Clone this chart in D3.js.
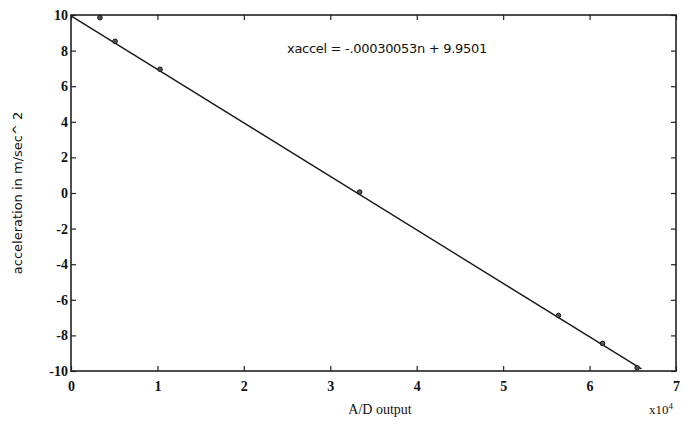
<!DOCTYPE html>
<html>
<head>
<meta charset="utf-8">
<script src="https://cdn.jsdelivr.net/npm/d3@7"></script>
<style>
  body { margin: 0; background: #fff; }
  svg text { font-family: "Liberation Serif", "DejaVu Serif", serif; fill: #111; }
</style>
</head>
<body>
<script>
//-----------------Data----------------

const adOutput = [3350, 5100, 10300, 33400, 56400, 61500, 65500];
const accel = [9.85, 8.52, 6.95, 0.05, -6.88, -8.45, -9.82];
const xTicks = [0, 1, 2, 3, 4, 5, 6, 7];
const yTicks = [-10, -8, -6, -4, -2, 0, 2, 4, 6, 8, 10];
const fitSlope = -0.00030053;
const fitIntercept = 9.9501;
const fitRange = [0, 66000];
const fitLabel = "xaccel = -.00030053n + 9.9501";

//-----------------Main svg----------------

const width = 685;
const height = 430;
const margin = { top: 15, right: 9, bottom: 59, left: 71 };

const svg = d3.select("body").append("svg").attr("width", width).attr("height", height);

const x = d3.scaleLinear().domain([0, 70000]).range([margin.left, width - margin.right]);
const y = d3.scaleLinear().domain([-10, 10]).range([height - margin.bottom, margin.top]);

//----------------Axes (ticks inside the box)-----------------

const tickLen = 5;

svg
  .append("g")
  .attr("transform", `translate(0, ${height - margin.bottom})`)
  .call(d3.axisBottom(x).tickValues(xTicks.map((t) => t * 1e4)).tickFormat((d) => String(d / 1e4)).tickSizeInner(-tickLen).tickSizeOuter(0).tickPadding(10))
  .call((g) => g.select(".domain").remove());

svg
  .append("g")
  .attr("transform", `translate(${margin.left}, 0)`)
  .call(d3.axisLeft(y).tickValues(yTicks).tickFormat((d) => String(d)).tickSizeInner(-tickLen).tickSizeOuter(0).tickPadding(3))
  .call((g) => g.select(".domain").remove());

svg
  .append("g")
  .attr("transform", `translate(0, ${margin.top})`)
  .call(d3.axisTop(x).tickValues(xTicks.map((t) => t * 1e4)).tickFormat("").tickSizeInner(-tickLen).tickSizeOuter(0))
  .call((g) => g.select(".domain").remove());

svg
  .append("g")
  .attr("transform", `translate(${width - margin.right}, 0)`)
  .call(d3.axisRight(y).tickValues(yTicks).tickFormat("").tickSizeInner(-tickLen).tickSizeOuter(0))
  .call((g) => g.select(".domain").remove());

svg.selectAll(".tick line").attr("stroke", "#222").attr("stroke-width", 1.2);
svg.selectAll(".tick text").style("font-size", "14px").style("font-weight", "bold");

// frame
svg
  .append("rect")
  .attr("x", margin.left)
  .attr("y", margin.top)
  .attr("width", width - margin.left - margin.right)
  .attr("height", height - margin.top - margin.bottom)
  .attr("fill", "none")
  .attr("stroke", "#222")
  .attr("stroke-width", 1.6);

//----------------Fit line and points-----------------

const line = d3
  .line()
  .x((d) => x(d))
  .y((d) => y(fitSlope * d + fitIntercept));

svg.append("path").datum(fitRange).attr("d", line).attr("fill", "none").attr("stroke", "#1a1a1a").attr("stroke-width", 1.4);

svg
  .selectAll("circle.pt")
  .data(adOutput)
  .enter()
  .append("circle")
  .attr("class", "pt")
  .attr("cx", (d) => x(d))
  .attr("cy", (d, i) => y(accel[i]))
  .attr("r", 2.3)
  .attr("fill", "#555")
  .attr("stroke", "#111")
  .attr("stroke-width", 1);

//----------------Labels-----------------

svg
  .append("text")
  .text(fitLabel)
  .attr("x", 287)
  .attr("y", 53)
  .style("font-family", "'DejaVu Sans', sans-serif")
  .style("font-size", "13px")
  .style("letter-spacing", "-0.3px");

svg
  .append("text")
  .text("A/D output")
  .attr("x", 380)
  .attr("y", 414)
  .style("text-anchor", "middle")
  .style("font-size", "14px");

svg
  .append("text")
  .attr("x", 649)
  .attr("y", 414)
  .style("font-size", "13px")
  .text("x10")
  .append("tspan")
  .attr("dy", -5)
  .style("font-size", "9px")
  .text("4");

svg
  .append("text")
  .text("acceleration in m/sec^ 2")
  .attr("transform", `translate(22, ${(margin.top + height - margin.bottom) / 2}) rotate(-90)`)
  .style("text-anchor", "middle")
  .style("font-family", "'DejaVu Sans', sans-serif")
  .style("font-size", "13px");
</script>
</body>
</html>
